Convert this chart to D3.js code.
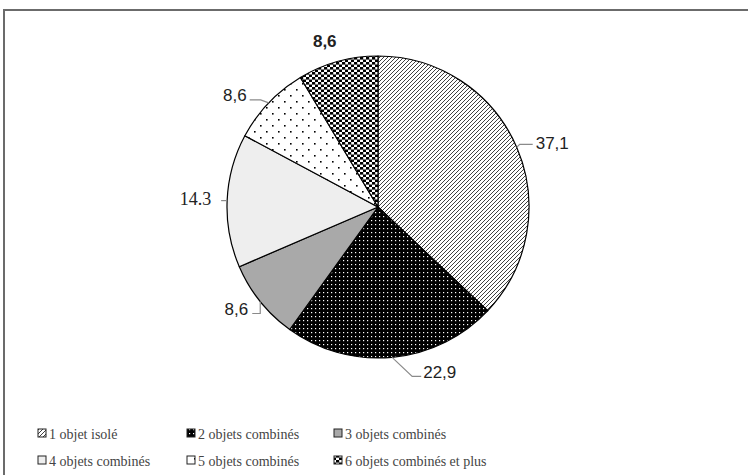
<!DOCTYPE html>
<html>
<head>
<meta charset="utf-8">
<script src="https://cdn.jsdelivr.net/npm/d3@7"></script>
<style>
  html, body { margin: 0; padding: 0; background: #fff; }
  svg { display: block; }
</style>
</head>
<body>
<svg id="chart" width="748" height="475"></svg>
<script>
// Répartition des cas selon le nombre d'objets
const categories = [
  "1 objet isolé",
  "2 objets combinés",
  "3 objets combinés",
  "4 objets combinés",
  "5 objets combinés",
  "6 objets combinés et plus"
];
const values = [37.1, 22.9, 8.6, 14.3, 8.6, 8.6];
const valueLabels = ["37,1", "22,9", "8,6", "14.3", "8,6", "8,6"];

const W = 748, H = 475;
const cx = 378, cy = 207, R = 151;

const svg = d3.select("#chart");
const defs = svg.append("defs");

// Fill patterns, one per category
function pat(id, w, h, build) {
  const p = defs.append("pattern")
    .attr("id", id).attr("patternUnits", "userSpaceOnUse")
    .attr("width", w).attr("height", h);
  build(p);
}
pat("p1", 4, 4, p => {
  p.append("rect").attr("width", 4).attr("height", 4).attr("fill", "#fff");
  p.append("path").attr("d", "M-1,1 L1,-1 M0,4 L4,0 M3,5 L5,3")
    .attr("stroke", "#000").attr("stroke-width", 0.75);
});
pat("p2", 4, 4, p => {
  p.append("rect").attr("width", 4).attr("height", 4).attr("fill", "#000");
  p.append("rect").attr("x", 1).attr("y", 1).attr("width", 1.2).attr("height", 1.2).attr("fill", "#fff");
});
pat("p3", 4, 4, p => {
  p.append("rect").attr("width", 4).attr("height", 4).attr("fill", "#a9a9a9");
});
pat("p4", 4, 4, p => {
  p.append("rect").attr("width", 4).attr("height", 4).attr("fill", "#eeeeee");
});
pat("p5", 12, 12, p => {
  p.append("rect").attr("width", 12).attr("height", 12).attr("fill", "#fff");
  p.append("rect").attr("x", 2).attr("y", 2).attr("width", 1.6).attr("height", 1.6).attr("fill", "#000");
  p.append("rect").attr("x", 8).attr("y", 8).attr("width", 1.6).attr("height", 1.6).attr("fill", "#000");
});
pat("p6", 6, 5, p => {
  p.append("rect").attr("width", 6).attr("height", 5).attr("fill", "#fff");
  p.append("rect").attr("x", 0).attr("y", 0).attr("width", 3.2).attr("height", 2.6).attr("fill", "#000");
  p.append("rect").attr("x", 3).attr("y", 2.5).attr("width", 3.2).attr("height", 2.6).attr("fill", "#000");
});
const fills = ["url(#p1)", "url(#p2)", "url(#p3)", "url(#p4)", "url(#p5)", "url(#p6)"];

// Frame (left and top edges)
svg.append("path")
  .attr("d", `M4,${H + 2} L4,10 L${W + 2},10`)
  .attr("fill", "none").attr("stroke", "#6b6b6b").attr("stroke-width", 2);

// Pie
const pie = d3.pie().sort(null).value(d => d)(values);
const arc = d3.arc().innerRadius(0).outerRadius(R);
const edge = d3.arc().innerRadius(R).outerRadius(R);

const g = svg.append("g").attr("transform", `translate(${cx},${cy})`);
g.selectAll("path.slice")
  .data(pie)
  .join("path")
  .attr("class", "slice")
  .attr("d", arc)
  .attr("fill", (d, i) => fills[i])
  .attr("stroke", "#000")
  .attr("stroke-width", 1.2)
  .attr("stroke-linejoin", "round");

// Value labels with leader lines; offsets are relative to the arc edge point
const labelLayout = [
  { leader: [[3, -3], [16, -3]], text: [19, -4], anchor: "start", font: "Liberation Sans", size: 17 },
  { leader: [[2, 2], [20, 19], [29, 19]], text: [31, 15], anchor: "start", font: "Liberation Sans", size: 17 },
  { leader: [[0, 1], [0, 12], [-8, 12]], text: [-12, 8], anchor: "end", font: "Liberation Sans", size: 17 },
  { leader: [[0, 0], [-6, 0]], text: [-16, -2], anchor: "end", font: "Liberation Serif", size: 18 },
  { leader: [[0, 0], [-8, -3], [-19, -3]], text: [-22, -7], anchor: "end", font: "Liberation Sans", size: 17 },
  { leader: null, text: [-13, -20], anchor: "middle", font: "Liberation Sans", size: 17 }
];

pie.forEach((d, i) => {
  const [ex, ey] = edge.centroid(d);
  const L = labelLayout[i];
  if (L.leader) {
    const pts = [[ex, ey]].concat(L.leader.map(([dx, dy]) => [ex + dx, ey + dy]));
    g.append("path")
      .attr("d", d3.line()(pts))
      .attr("fill", "none").attr("stroke", "#8a8a8a").attr("stroke-width", 1.2);
  }
  g.append("text")
    .attr("x", ex + L.text[0])
    .attr("y", ey + L.text[1])
    .attr("dominant-baseline", "central")
    .attr("text-anchor", L.anchor)
    .attr("font-family", L.font)
    .attr("font-size", L.size)
    .attr("font-weight", i === 5 ? "bold" : "normal")
    .attr("fill", "#222")
    .text(valueLabels[i]);
});

// Legend: two rows of three
const colX = [38, 187, 334];
const rowY = [434, 461];
const legend = svg.append("g");
categories.forEach((c, i) => {
  const x = colX[i % 3], y = rowY[Math.floor(i / 3)];
  legend.append("rect")
    .attr("x", x).attr("y", y - 5).attr("width", 8).attr("height", 8)
    .attr("fill", fills[i]).attr("stroke", "#222").attr("stroke-width", 1);
  legend.append("text")
    .attr("x", x + 11).attr("y", y)
    .attr("dominant-baseline", "central")
    .attr("font-family", "Liberation Serif")
    .attr("font-size", 14)
    .attr("fill", "#444")
    .text(c);
});
</script>
</body>
</html>
